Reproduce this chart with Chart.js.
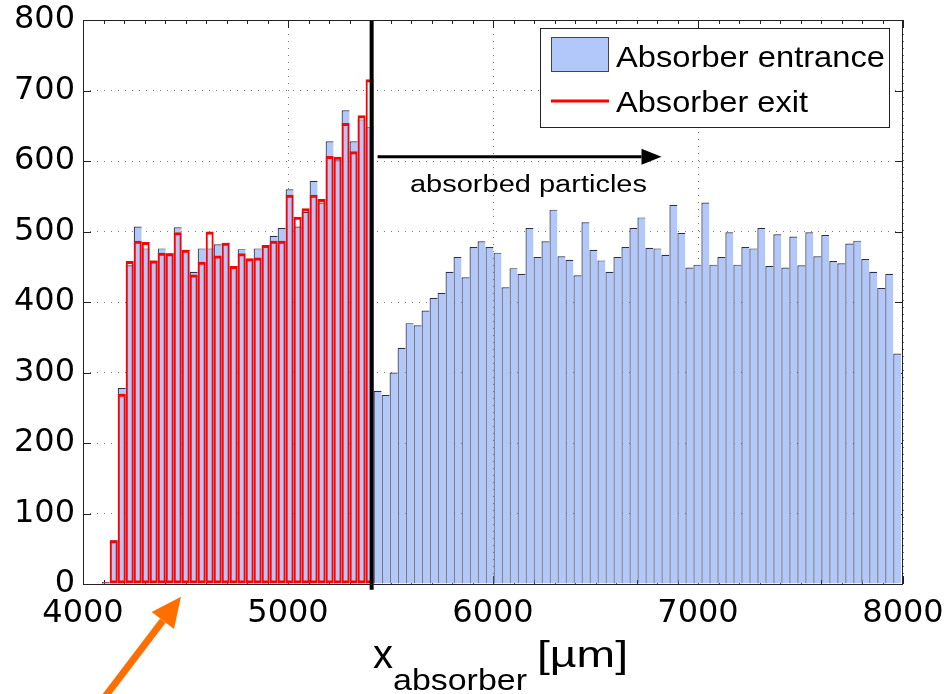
<!DOCTYPE html>
<html><head><meta charset="utf-8">
<script src="https://cdn.jsdelivr.net/npm/chart.js@4.4.0/dist/chart.umd.min.js"></script>
<style>html,body{margin:0;padding:0;background:#fff;overflow:hidden}</style>
</head><body>
<canvas id="c" width="946" height="694"></canvas>
<script>
// ---------- data ----------
const binCenters = [
 4111,4150,4189,4228,4267,4306,4345,4384,4423,4462,
 4501,4540,4579,4618,4657,4696,4735,4774,4813,4852,
 4891,4930,4969,5008,5047,5086,5125,5164,5203,5242,
 5281,5320,5359,5398,5437,5476,5515,5554,5593,5632,
 5671,5710,5749,5788,5827,5866,5905,5944,5983,6022,
 6061,6100,6139,6178,6217,6256,6295,6334,6373,6412,
 6451,6490,6529,6568,6607,6646,6685,6724,6763,6802,
 6841,6880,6919,6958,6997,7036,7075,7114,7153,7192,
 7231,7270,7309,7348,7387,7426,7465,7504,7543,7582,
 7621,7660,7699,7738,7777,7816,7855,7894,7933,7972];
const entranceCounts = [
 3,62,278,452,507,476,459,476,469,506,
 474,443,476,476,482,484,451,475,461,476,
 481,494,505,560,507,528,572,541,628,601,
 672,628,659,648,274,268,300,335,370,367,
 388,406,413,443,464,435,478,486,478,470,
 421,448,440,505,464,486,531,465,460,438,
 513,474,459,443,464,478,505,520,477,476,
 467,538,498,449,453,541,453,464,499,453,
 478,476,505,451,496,449,493,452,499,465,
 495,458,455,483,487,461,443,420,440,327];
const exitCounts = [
 2,62,270,458,487,485,459,470,469,499,
 474,439,457,500,466,484,451,469,462,463,
 481,487,487,552,521,533,552,546,607,606,
 654,614,665,716];
const seriesLabels = ['Absorber entrance', 'Absorber exit'];
const xTickValues = [4000,5000,6000,7000,8000];
const yTickValues = [0,100,200,300,400,500,600,700,800];
const cutPosition = 5408;
const annotationLabel = 'absorbed particles';
const annotationArrow = {x0: 5437, x1: 6822, y: 606};
const annotationTextPos = {x: 6173, y: 556};
const pointerArrow = {x0: 4107, y0: -160, x1: 4478, y1: -18};
const axisTitle = {main: 'x', sub: 'absorber', unit: '[µm]'};

// ---------- styles ----------
const FONT = '"Liberation Sans", Arial, Helvetica, sans-serif';
const TICKFONT = '"DejaVu Sans", sans-serif';
const BLUE = 'rgb(178,199,250)';
const RED = '#ff0000';

const entranceData = binCenters.map((x, i) => ({x, y: entranceCounts[i]}));
const exitData = exitCounts.map((y, i) => ({x: binCenters[i], y}));

function stretchText(ctx, text, x, y, size, targetW, align) {
  ctx.save();
  ctx.font = size + 'px ' + FONT;
  const w = ctx.measureText(text).width;
  const sx = targetW ? targetW / w : 1;
  ctx.translate(x, y);
  ctx.scale(sx, 1);
  ctx.textAlign = 'left';
  ctx.textBaseline = 'alphabetic';
  ctx.fillStyle = '#000';
  ctx.fillText(text, align === 'center' ? -w / 2 : 0, 0);
  ctx.restore();
}
function arrow(ctx, x1, y1, x2, y2, lw, headLen, headHalf, color) {
  const a = Math.atan2(y2 - y1, x2 - x1);
  const bx = x2 - headLen * Math.cos(a), by = y2 - headLen * Math.sin(a);
  ctx.save();
  ctx.strokeStyle = color; ctx.fillStyle = color; ctx.lineWidth = lw;
  ctx.beginPath(); ctx.moveTo(x1, y1); ctx.lineTo(bx, by); ctx.stroke();
  ctx.beginPath(); ctx.moveTo(x2, y2);
  ctx.lineTo(bx + headHalf * Math.sin(a), by - headHalf * Math.cos(a));
  ctx.lineTo(bx - headHalf * Math.sin(a), by + headHalf * Math.cos(a));
  ctx.closePath(); ctx.fill();
  ctx.restore();
}

const deco = {
  id: 'deco',
  beforeDatasetsDraw(chart) {
    const {ctx, chartArea: a, scales: {x, y}} = chart;
    ctx.save();
    ctx.strokeStyle = '#222'; ctx.lineWidth = 1;
    ctx.beginPath();
    for (let v = 4100; v < 8000; v += 100) {
      if (v % 1000 === 0) continue;
      const px = Math.round(x.getPixelForValue(v)) + 0.5;
      ctx.moveTo(px, a.top); ctx.lineTo(px, a.top + 4);
      ctx.moveTo(px, a.bottom); ctx.lineTo(px, a.bottom - 4);
    }
    xTickValues.forEach(v => {
      const px = Math.round(x.getPixelForValue(v)) + 0.5;
      ctx.moveTo(px, a.top); ctx.lineTo(px, a.top + 8);
      ctx.moveTo(px, a.bottom); ctx.lineTo(px, a.bottom - 8);
    });
    yTickValues.forEach(v => {
      const py = Math.round(y.getPixelForValue(v)) + 0.5;
      ctx.moveTo(a.left, py); ctx.lineTo(a.left + 8, py);
      ctx.moveTo(a.right, py); ctx.lineTo(a.right - 8, py);
    });
    ctx.stroke();
    ctx.restore();
  },
  afterDatasetsDraw(chart) {
    const {ctx, chartArea: a, scales: {x, y}} = chart;
    ctx.save();
    ctx.strokeStyle = '#222'; ctx.lineWidth = 1;
    ctx.strokeRect(Math.round(a.left) + 0.5, Math.round(a.top) + 0.5,
      Math.round(a.right - a.left) - 1, Math.round(a.bottom - a.top));
    ctx.restore();
    // cut annotation
    arrow(ctx, x.getPixelForValue(annotationArrow.x0), y.getPixelForValue(annotationArrow.y),
      x.getPixelForValue(annotationArrow.x1), y.getPixelForValue(annotationArrow.y), 3, 20, 8, '#000');
    stretchText(ctx, annotationLabel, x.getPixelForValue(annotationTextPos.x),
      y.getPixelForValue(annotationTextPos.y), 23, 237, 'center');
  },
  afterDraw(chart) {
    const {ctx, scales: {x, y}} = chart;
    // legend
    ctx.save();
    ctx.fillStyle = '#fff';
    ctx.fillRect(540, 28, 349, 99);
    ctx.strokeStyle = '#222'; ctx.lineWidth = 1;
    ctx.strokeRect(540.5, 28.5, 349, 99);
    ctx.fillStyle = BLUE;
    ctx.fillRect(551, 37, 58, 35);
    ctx.strokeStyle = '#444';
    ctx.strokeRect(551.5, 37.5, 57, 34);
    ctx.strokeStyle = RED; ctx.lineWidth = 3;
    ctx.beginPath(); ctx.moveTo(551, 101); ctx.lineTo(609, 101); ctx.stroke();
    ctx.restore();
    stretchText(ctx, seriesLabels[0], 616, 67, 30, 269);
    stretchText(ctx, seriesLabels[1], 616, 112, 30, 192);
    // axis title
    stretchText(ctx, axisTitle.main, 373, 668, 40, 20);
    stretchText(ctx, axisTitle.sub, 393, 690, 30, 134);
    stretchText(ctx, axisTitle.unit, 537, 667, 37, 91);
    // pointer arrow (outside the axes)
    arrow(ctx, x.getPixelForValue(pointerArrow.x0), y.getPixelForValue(pointerArrow.y0),
      x.getPixelForValue(pointerArrow.x1), y.getPixelForValue(pointerArrow.y1), 7, 30, 14, 'rgb(255,110,0)');
  }
};

new Chart(document.getElementById('c'), {
  type: 'bar',
  data: {
    datasets: [
      {
        label: seriesLabels[0], data: entranceData, order: 3,
        backgroundColor: BLUE, borderColor: 'rgb(45,48,70)',
        borderWidth: {left: 1.2, top: 1.2, right: 0, bottom: 0}, borderSkipped: false,
        grouped: false, barPercentage: 1, categoryPercentage: 1, inflateAmount: 0
      },
      {
        label: seriesLabels[1], data: exitData, order: 2,
        backgroundColor: 'rgba(0,0,0,0)', borderColor: RED,
        borderWidth: {left: 2, right: 2, top: 3, bottom: 3}, borderSkipped: false,
        grouped: false, barPercentage: 1, categoryPercentage: 1, inflateAmount: 0
      },
      {
        type: 'line', label: 'cut', order: 1,
        data: [{x: cutPosition, y: -8}, {x: cutPosition, y: 800}],
        borderColor: '#000', borderWidth: 4, pointRadius: 0, clip: false
      }
    ]
  },
  options: {
    responsive: false, animation: false, devicePixelRatio: 1,
    layout: {padding: {left: 0, right: 43, top: 20, bottom: 0}},
    plugins: {legend: {display: false}, tooltip: {enabled: false}},
    scales: {
      x: {
        type: 'linear', min: 4000, max: 8000, offset: false,
        afterBuildTicks: s => { s.ticks = xTickValues.map(v => ({value: v})); },
        afterFit: s => { s.height = 110; s.paddingLeft = 0; s.paddingRight = 0; },
        grid: {color: '#777', lineWidth: 1, drawTicks: false, offset: false},
        border: {display: false, dash: [1, 6]},
        ticks: {font: {family: TICKFONT, size: 32}, color: '#000', padding: 10, maxRotation: 0,
          callback: v => String(v)}
      },
      y: {
        type: 'linear', min: 0, max: 800,
        afterBuildTicks: s => { s.ticks = yTickValues.map(v => ({value: v})); },
        afterFit: s => { s.width = 83; s.paddingTop = 0; s.paddingBottom = 0; },
        grid: {color: '#777', lineWidth: 1, drawTicks: false},
        border: {display: false, dash: [1, 6]},
        ticks: {font: {family: TICKFONT, size: 32}, color: '#000', padding: 8,
          callback: v => String(v)}
      }
    }
  },
  plugins: [deco]
});
</script>
</body></html>
